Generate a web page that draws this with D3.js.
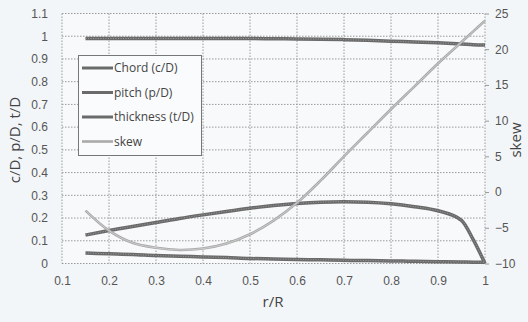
<!DOCTYPE html>
<html>
<head>
<meta charset="utf-8">
<script src="https://cdn.jsdelivr.net/npm/d3@7"></script>
<style>
body { margin: 0; background: #f3f6f9; }
svg { display: block; font-family: "Open Sans", "Noto Sans", sans-serif; }
</style>
</head>
<body>
<svg width="528" height="322"></svg>
<script>
var rR = [0.15, 0.2, 0.25, 0.3, 0.35, 0.4, 0.45, 0.5, 0.55, 0.6, 0.65, 0.7, 0.75, 0.8, 0.85, 0.9, 0.95, 0.975, 1.0];
var chord = [0.125, 0.145, 0.163, 0.18, 0.198, 0.214, 0.229, 0.243, 0.255, 0.264, 0.27, 0.272, 0.27, 0.263, 0.25, 0.232, 0.19, 0.105, 0.0];
var pitch = [0.99, 0.99, 0.99, 0.99, 0.99, 0.99, 0.99, 0.99, 0.989, 0.988, 0.987, 0.985, 0.982, 0.978, 0.975, 0.971, 0.966, 0.963, 0.961];
var thickness = [0.046, 0.043, 0.04, 0.035, 0.032, 0.029, 0.026, 0.022, 0.02, 0.018, 0.016, 0.014, 0.013, 0.011, 0.01, 0.008, 0.007, 0.006, 0.005];
var skew = [-2.6, -5.4, -7.1, -7.8, -8.1, -7.9, -7.2, -5.9, -4.0, -1.5, 1.6, 5.0, 8.3, 11.6, 14.8, 18.0, 21.0, 22.5, 24.0];

var xTicks = [0.1, 0.2, 0.3, 0.4, 0.5, 0.6, 0.7, 0.8, 0.9, 1];
var yTicks = [0, 0.1, 0.2, 0.3, 0.4, 0.5, 0.6, 0.7, 0.8, 0.9, 1, 1.1];
var skewTicks = [-10, -5, 0, 5, 10, 15, 20, 25];
var seriesNames = ["Chord (c/D)", "pitch (p/D)", "thickness (t/D)", "skew"];

var svg = d3.select("svg");

var x = d3.scaleLinear().domain([0.1, 1]).range([62, 485]);
var y = d3.scaleLinear().domain([0, 1.1]).range([263.5, 13.5]);
var y2 = d3.scaleLinear().domain([-10, 25]).range([263.5, 13.5]);

// plot area
svg.append("rect")
	.attr("x", 62).attr("y", 13.5)
	.attr("width", 423).attr("height", 250)
	.attr("fill", "#f7f9fb");

var grid = svg.append("g").attr("class", "grid");
grid.selectAll("line.h").data(yTicks).enter().append("line")
	.attr("x1", 62).attr("x2", 485)
	.attr("y1", function(d) { return y(d); })
	.attr("y2", function(d) { return y(d); })
	.attr("stroke", "#9a9a9a")
	.attr("stroke-dasharray", "1.5,1.5");
grid.selectAll("line.v").data(xTicks).enter().append("line")
	.attr("y1", 13.5).attr("y2", 263.5)
	.attr("x1", function(d) { return x(d); })
	.attr("x2", function(d) { return x(d); })
	.attr("stroke", "#9a9a9a")
	.attr("stroke-dasharray", "1.5,1.5");

// axes
var xAxis = svg.append("g")
	.attr("transform", "translate(0,263.5)")
	.call(d3.axisBottom(x).tickValues(xTicks).tickSize(0).tickPadding(13).tickFormat(d3.format("")));
var yAxis = svg.append("g")
	.attr("transform", "translate(62,0)")
	.call(d3.axisLeft(y).tickValues(yTicks).tickSize(0).tickPadding(14).tickFormat(d3.format("")));
var yAxis2 = svg.append("g")
	.attr("transform", "translate(485,0)")
	.call(d3.axisRight(y2).tickValues(skewTicks).tickSize(4).tickPadding(6));

[xAxis, yAxis, yAxis2].forEach(function(a) {
	a.select(".domain").remove();
	a.selectAll("text").attr("fill", "#555").style("font-size", "12px");
	a.selectAll("line").attr("stroke", "#999");
});

svg.append("text")
	.attr("x", 273).attr("y", 307)
	.attr("text-anchor", "middle")
	.attr("fill", "#444").style("font-size", "15px")
	.text("r/R");
svg.append("text")
	.attr("transform", "translate(20,140) rotate(-90)")
	.attr("text-anchor", "middle")
	.attr("fill", "#444").style("font-size", "15px")
	.text("c/D, p/D, t/D");
svg.append("text")
	.attr("transform", "translate(521,140) rotate(-90)")
	.attr("text-anchor", "middle")
	.attr("fill", "#444").style("font-size", "15px")
	.text("skew");

// lines
var line = d3.line()
	.x(function(d, i) { return x(rR[i]); })
	.y(function(d) { return y(d); })
	.curve(d3.curveMonotoneX);
var line2 = d3.line()
	.x(function(d, i) { return x(rR[i]); })
	.y(function(d) { return y2(d); })
	.curve(d3.curveCatmullRom);

var dark = [chord, pitch, thickness];
svg.selectAll("path.dark").data(dark).enter().append("path")
	.attr("class", "dark")
	.attr("d", line)
	.attr("fill", "none")
	.attr("stroke", "#6a6a6a")
	.attr("stroke-width", 3.5);
svg.selectAll("path.dark2").data(dark).enter().append("path")
	.attr("d", line)
	.attr("fill", "none")
	.attr("stroke", "#9a9a9a")
	.attr("stroke-width", 1)
	.attr("stroke-dasharray", "1,1.5");

svg.append("path")
	.attr("d", line2(skew))
	.attr("fill", "none")
	.attr("stroke", "#a8a8a8")
	.attr("stroke-width", 2.6);
svg.append("path")
	.attr("d", line2(skew))
	.attr("fill", "none")
	.attr("stroke", "#d6d6d6")
	.attr("stroke-width", 0.8);

// legend
var legend = svg.append("g");
legend.append("rect")
	.attr("x", 78.5).attr("y", 55.5)
	.attr("width", 123).attr("height", 100)
	.attr("fill", "#fafbfc")
	.attr("stroke", "#777");

var items = legend.selectAll("g.item").data(seriesNames).enter().append("g")
	.attr("transform", function(d, i) { return "translate(0," + (68 + i * 24.5) + ")"; });
items.append("line")
	.attr("x1", 82).attr("x2", 113)
	.attr("stroke", function(d, i) { return i < 3 ? "#6a6a6a" : "#aaaaaa"; })
	.attr("stroke-width", function(d, i) { return i < 3 ? 3 : 2.6; });
items.append("text")
	.attr("x", 114).attr("dy", "0.35em")
	.attr("fill", "#444")
	.style("font-size", "12px")
	.text(function(d) { return d; });
</script>
</body>
</html>
